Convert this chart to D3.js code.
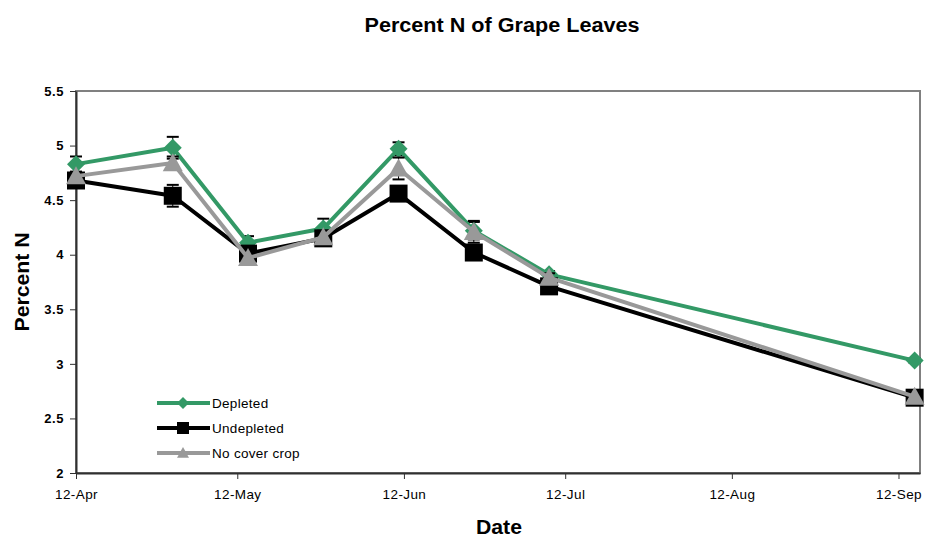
<!DOCTYPE html>
<html><head><meta charset="utf-8">
<script src="https://cdn.jsdelivr.net/npm/d3@7"></script>
<style>body{margin:0;background:#fff}svg{font-family:Arial,"Liberation Sans",sans-serif}</style>
</head><body><svg id="c" width="925" height="537"></svg>
<script>
const dates = ["2005-04-12","2005-04-30","2005-05-14","2005-05-28","2005-06-11","2005-06-25","2005-07-09","2005-09-15"];
const depleted = [4.83,4.98,4.11,4.24,4.97,4.22,3.82,3.03];
const depletedErr = [0.07,0.10,0.06,0.09,0.06,0.08,0.03,0.02];
const undepleted = [4.68,4.54,4.01,4.15,4.56,4.02,3.71,2.69];
const undepletedErr = [0.06,0.10,0.05,0.05,0.05,0.04,0.03,0.02];
const nocover = [4.72,4.84,3.97,4.16,4.79,4.21,3.79,2.70];
const nocoverErr = [0.04,0.06,0.05,0.06,0.10,0.10,0.04,0.02];
const xTickDates = ["2005-04-12","2005-05-12","2005-06-12","2005-07-12","2005-08-12","2005-09-12"];
const yTicks = [2,2.5,3,3.5,4,4.5,5,5.5];
const seriesNames = ["Depleted","Undepleted","No cover crop"];

const parse = d3.timeParse("%Y-%m-%d");
const svg = d3.select("#c");
const L=76, R=920, T=91, B=473;
const x = d3.scaleTime().domain([parse("2005-04-12"), parse("2005-09-16")]).range([L,R]);
const y = d3.scaleLinear().domain([2,5.5]).range([B,T]);

svg.append("text").attr("x",502).attr("y",32).attr("text-anchor","middle")
  .attr("font-size",20).attr("font-weight","bold")
  .attr("textLength",275).attr("lengthAdjust","spacingAndGlyphs").text("Percent N of Grape Leaves");

svg.append("rect").attr("x",L).attr("y",T).attr("width",R-L).attr("height",B-T)
  .attr("fill","none").attr("stroke","#808080").attr("stroke-width",2);

const yAxis = svg.append("g").attr("transform",`translate(${L},0)`)
  .call(d3.axisLeft(y).tickValues(yTicks).tickFormat(d3.format("")).tickSize(6).tickSizeOuter(0));
yAxis.select(".domain").attr("stroke","#303030").attr("stroke-width",2);
yAxis.selectAll("line").attr("stroke","#303030");
yAxis.selectAll("text").attr("font-size",13).attr("font-weight","bold").attr("fill","#000")
  .attr("font-family","Arial,'Liberation Sans',sans-serif").attr("x",-12).attr("letter-spacing",0.6);

const xAxis = svg.append("g").attr("transform",`translate(0,${B})`)
  .call(d3.axisBottom(x).tickValues(xTickDates.map(parse)).tickFormat(d3.timeFormat("%d-%b")).tickSize(6).tickSizeOuter(0));
xAxis.select(".domain").attr("stroke","#303030").attr("stroke-width",2);
xAxis.selectAll("line").attr("stroke","#303030");
xAxis.selectAll("text").attr("font-size",13.5).attr("fill","#000")
  .attr("font-family","Arial,'Liberation Sans',sans-serif").attr("y",16).attr("letter-spacing",0.4);

svg.append("text").attr("x",499).attr("y",534).attr("text-anchor","middle")
  .attr("font-size",20).attr("font-weight","bold")
  .attr("textLength",46).attr("lengthAdjust","spacingAndGlyphs").text("Date");
svg.append("text").attr("transform","translate(29,282) rotate(-90)").attr("text-anchor","middle")
  .attr("font-size",20).attr("font-weight","bold")
  .attr("textLength",99).attr("lengthAdjust","spacingAndGlyphs").text("Percent N");

function marker(type, r){
  if(type==="diamond") return `M0,${-r}L${r},0L0,${r}L${-r},0Z`;
  if(type==="square") return `M${-r},${-r}H${r}V${r}H${-r}Z`;
  const h = r*1.8;
  return `M0,${-h*0.55}L${r},${h*0.45}L${-r},${h*0.45}Z`;
}

const series = [
  {name:seriesNames[0], vals:depleted, err:depletedErr, color:"#339966", sym:"diamond", r:9},
  {name:seriesNames[1], vals:undepleted, err:undepletedErr, color:"#000000", sym:"square", r:9},
  {name:seriesNames[2], vals:nocover, err:nocoverErr, color:"#999999", sym:"triangle", r:10}
];
const line = d3.line().x(d=>x(d.d)).y(d=>y(d.v));

series.forEach(s=>{
  const pts = dates.map((d,i)=>({d:parse(d), v:s.vals[i], e:s.err[i]}));
  const g = svg.append("g");
  pts.forEach(p=>{
    const cx=x(p.d);
    g.append("line").attr("x1",cx).attr("x2",cx).attr("y1",y(p.v+p.e)).attr("y2",y(p.v-p.e)).attr("stroke","#000").attr("stroke-width",1);
    [p.v+p.e,p.v-p.e].forEach(v=>g.append("line").attr("x1",cx-6).attr("x2",cx+6).attr("y1",y(v)).attr("y2",y(v)).attr("stroke","#000").attr("stroke-width",2));
  });
  g.append("path").datum(pts).attr("d",line).attr("fill","none").attr("stroke",s.color).attr("stroke-width",4).attr("stroke-linejoin","round");
  g.selectAll(".m").data(pts).enter().append("path")
    .attr("transform",p=>`translate(${x(p.d)},${y(p.v)})`)
    .attr("d",marker(s.sym,s.r)).attr("fill",s.color);
});

const leg = svg.append("g");
series.forEach((s,i)=>{
  const ly = 403 + i*25;
  leg.append("line").attr("x1",157).attr("x2",210).attr("y1",ly).attr("y2",ly).attr("stroke",s.color).attr("stroke-width",4);
  leg.append("path").attr("transform",`translate(183,${ly})`).attr("d",marker(s.sym,6)).attr("fill",s.color);
  leg.append("text").attr("x",212).attr("y",ly+5).attr("font-size",13.5).attr("letter-spacing",0.3).text(s.name);
});
</script></body></html>
